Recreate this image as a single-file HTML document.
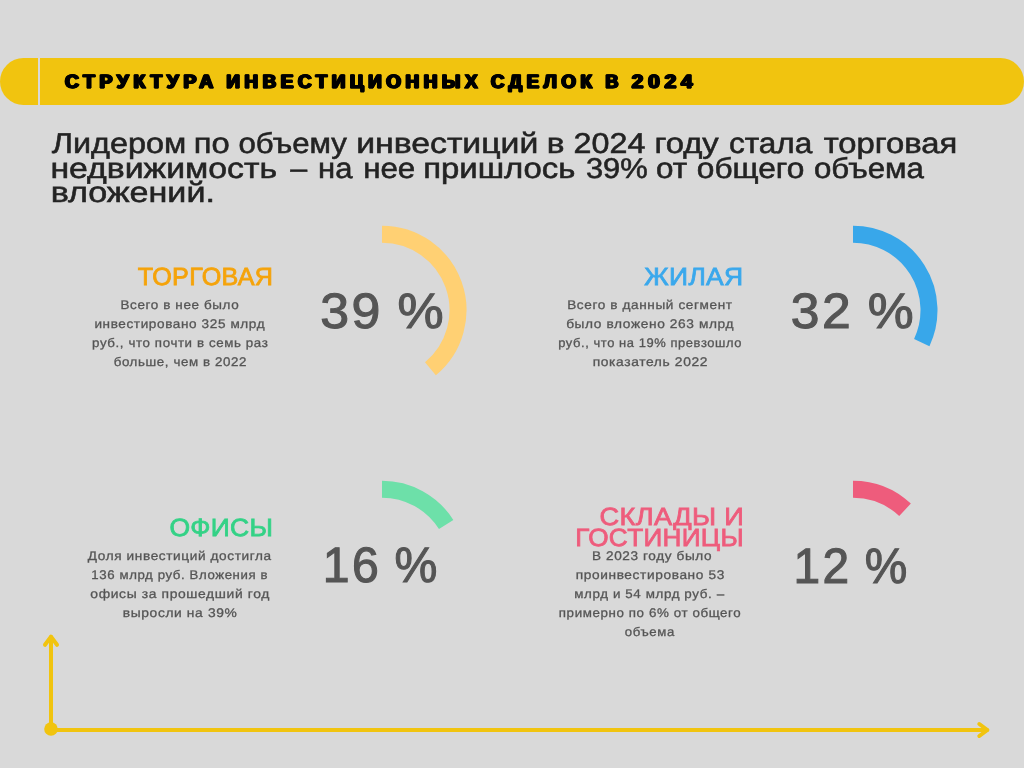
<!DOCTYPE html><html lang="ru"><head><meta charset="utf-8"><title>Структура инвестиционных сделок в 2024</title><style>
*{margin:0;padding:0;box-sizing:border-box}
html,body{width:1024px;height:768px;overflow:hidden;background:#d9d9d9}
body{position:relative;font-family:"Liberation Sans",sans-serif}
.bar{position:absolute;left:0;top:58px;width:1024px;height:47px;border-radius:23.5px;background:#f1c40f}
.bar i{position:absolute;left:38px;top:0;width:2px;height:47px;background:#d9d9d9}
.t{position:absolute;white-space:nowrap;line-height:1;transform-origin:0 0;display:block;text-rendering:geometricPrecision}
.L{position:absolute;left:0;top:0;width:1024px;height:768px;will-change:transform}
.ttl{font-weight:700;color:#000;letter-spacing:4.6px;-webkit-text-stroke:1.3px #000;text-shadow:1.2px 0 0 #000,-1.2px 0 0 #000,.6px 0 0 #000,-.6px 0 0 #000}
.par{color:#232323;-webkit-text-stroke:0.55px #232323}
.lab{font-weight:400;-webkit-text-stroke:0.8px;letter-spacing:.3px}
.c1{color:#f5a30a} .c2{color:#3aa8ec} .c3{color:#33d286} .c4{color:#ee5c7c}
.md{display:inline-block;width:.58em;clip-path:inset(-1em 0 -1em 0)}
.dsc{color:#555;-webkit-text-stroke:0.3px #555;letter-spacing:.045em}
.dg{letter-spacing:.05em}
.num{color:#555;-webkit-text-stroke:1.1px #555}
svg{position:absolute;left:0;top:0}
</style></head><body>
<div class="bar"><i></i></div>
<svg width="1024" height="768" viewBox="0 0 1024 768"><path d="M382 234.2A76 76 0 0 1 430.44 368.76" fill="none" stroke="#ffd073" stroke-width="17"/><path d="M853 234.2A76 76 0 0 1 921.77 342.56" fill="none" stroke="#38a7ea" stroke-width="17"/><path d="M382 489.2A76 76 0 0 1 446.17 524.48" fill="none" stroke="#6de0a9" stroke-width="17"/><path d="M853 489.2A76 76 0 0 1 905.03 509.80" fill="none" stroke="#ee5c7c" stroke-width="17"/><g fill="none" stroke="#f1c40f" stroke-width="4" stroke-linecap="round" stroke-linejoin="round"><path d="M51 729V637"/><path d="M45 644.8L51 636.6L57 644.8"/><path d="M51 730H987"/><path d="M979.3 724L987.4 730L979.3 736"/></g><circle cx="51" cy="729" r="6.8" fill="#f1c40f"/></svg>
<div class="L">
<h1 class="h"><span class="t ttl" style="left:65px;top:72px;font-size:19.2px;transform:translate(0.02px,0.50px) scaleX(1.0070)">СТРУКТУРА</span> <span class="t ttl" style="left:226px;top:72px;font-size:19.2px;transform:translate(0.32px,0.50px) scaleX(0.9850)">ИНВЕСТИЦИОННЫХ</span> <span class="t ttl" style="left:490px;top:72px;font-size:19.2px;transform:translate(0.84px,0.50px) scaleX(0.9804)">СДЕЛОК</span> <span class="t ttl" style="left:605px;top:72px;font-size:19.2px;transform:translate(0.45px,0.50px) scaleX(0.9404)">В</span> <span class="t ttl" style="left:631px;top:72px;font-size:19.2px;transform:translate(0.80px,0.50px) scaleX(1.0751)">2024</span></h1>
<p class="p1"><span class="t par" style="left:51px;top:129px;font-size:28.6px;transform:translate(0.73px,0.64px) scaleX(1.1320)">Лидером</span> <span class="t par" style="left:193px;top:129px;font-size:28.6px;transform:translate(0.69px,0.64px) scaleX(1.1441)">по</span> <span class="t par" style="left:238px;top:129px;font-size:28.6px;transform:translate(0.49px,0.64px) scaleX(1.0907)">объему</span> <span class="t par" style="left:356px;top:129px;font-size:28.6px;transform:translate(0.13px,0.64px) scaleX(1.1813)">инвестиций</span> <span class="t par" style="left:546px;top:129px;font-size:28.6px;transform:translate(0.65px,0.64px) scaleX(1.1678)">в</span> <span class="t par" style="left:573px;top:129px;font-size:28.6px;transform:translate(0.57px,0.64px) scaleX(1.1286)">2024</span> <span class="t par" style="left:654px;top:129px;font-size:28.6px;transform:translate(0.50px,0.64px) scaleX(1.1458)">году</span> <span class="t par" style="left:728px;top:129px;font-size:28.6px;transform:translate(0.89px,0.64px) scaleX(1.1031)">стала</span> <span class="t par" style="left:823px;top:129px;font-size:28.6px;transform:translate(0.64px,0.64px) scaleX(1.1466)">торговая</span></p>
<p class="p2"><span class="t par" style="left:50px;top:154px;font-size:28.6px;transform:translate(0.39px,0.69px) scaleX(1.1814)">недвижимость</span> <span class="t par" style="left:290px;top:154px;font-size:28.6px;transform:translate(0.17px,0.69px) scaleX(0.5935)">—</span> <span class="t par" style="left:318px;top:154px;font-size:28.6px;transform:translate(0.01px,0.69px) scaleX(1.0843)">на</span> <span class="t par" style="left:363px;top:154px;font-size:28.6px;transform:translate(0.17px,0.69px) scaleX(1.0947)">нее</span> <span class="t par" style="left:423px;top:154px;font-size:28.6px;transform:translate(0.15px,0.69px) scaleX(1.1503)">пришлось</span> <span class="t par" style="left:585px;top:154px;font-size:28.6px;transform:translate(0.91px,0.69px) scaleX(1.0809)">39%</span> <span class="t par" style="left:656px;top:154px;font-size:28.6px;transform:translate(0.12px,0.69px) scaleX(1.0962)">от</span> <span class="t par" style="left:696px;top:154px;font-size:28.6px;transform:translate(0.84px,0.69px) scaleX(1.1063)">общего</span> <span class="t par" style="left:813px;top:154px;font-size:28.6px;transform:translate(0.97px,0.69px) scaleX(1.0922)">объема</span></p>
<p class="p3"><span class="t par" style="left:50px;top:178px;font-size:28.6px;transform:translate(0.63px,0.74px) scaleX(1.1919)">вложений.</span></p>
<div class="t lab c1" style="left:137px;top:264px;font-size:24.9px;transform:translate(0.71px,0.57px) scaleX(1.0102)">ТОРГОВАЯ</div>
<div class="t lab c2" style="left:644px;top:264px;font-size:24.9px;transform:translate(0.32px,0.57px) scaleX(1.0624)">ЖИЛАЯ</div>
<div class="t lab c3" style="left:169px;top:515px;font-size:24.9px;transform:translate(0.39px,0.62px) scaleX(1.0636)">ОФИСЫ</div>
<p class="l4"><span class="t lab c4" style="left:599px;top:504px;font-size:24.9px;transform:translate(0.57px,0.67px) scaleX(1.0927)">СКЛАДЫ И</span> <span class="t lab c4" style="left:575px;top:525px;font-size:24.9px;transform:translate(0.18px,0.64px) scaleX(1.0504)">ГОСТИНИЦЫ</span></p>
<p class="d1"><span class="t dsc" style="left:120px;top:298px;font-size:12.5px;transform:translate(0.52px,0.62px) scaleX(1.0779)">Всего в нее было</span> <span class="t dsc" style="left:94px;top:317px;font-size:12.5px;transform:translate(0.40px,0.67px) scaleX(1.0844)">инвестировано 325 млрд</span> <span class="t dsc" style="left:92px;top:336px;font-size:12.5px;transform:translate(0.08px,0.62px) scaleX(1.0654)">руб., что почти в семь раз</span> <span class="t dsc" style="left:113px;top:355px;font-size:12.5px;transform:translate(0.67px,0.52px) scaleX(1.0657)">больше, чем в 2022</span></p>
<p class="d2"><span class="t dsc" style="left:567px;top:298px;font-size:12.5px;transform:translate(0.19px,0.62px) scaleX(1.0878)">Всего в данный сегмент</span> <span class="t dsc" style="left:566px;top:317px;font-size:12.5px;transform:translate(0.14px,0.67px) scaleX(1.0965)">было вложено 263 млрд</span> <span class="t dsc" style="left:558px;top:336px;font-size:12.5px;transform:translate(0.20px,0.62px) scaleX(1.0333)">руб., что на 19% превзошло</span> <span class="t dsc" style="left:592px;top:355px;font-size:12.5px;transform:translate(0.66px,0.52px) scaleX(1.1064)">показатель 2022</span></p>
<p class="d3"><span class="t dsc" style="left:87px;top:549px;font-size:12.5px;transform:translate(0.80px,0.67px) scaleX(1.0888)">Доля инвестиций достигла</span> <span class="t dsc" style="left:91px;top:568px;font-size:12.5px;transform:translate(0.36px,0.62px) scaleX(1.0578)">136 млрд руб. Вложения в</span> <span class="t dsc" style="left:90px;top:587px;font-size:12.5px;transform:translate(0.35px,0.57px) scaleX(1.1092)">офисы за прошедший год</span> <span class="t dsc" style="left:122px;top:606px;font-size:12.5px;transform:translate(0.77px,0.52px) scaleX(1.1047)">выросли на 39%</span></p>
<p class="d4"><span class="t dsc" style="left:591px;top:549px;font-size:12.5px;transform:translate(0.92px,0.67px) scaleX(1.0872)">В 2023 году было</span> <span class="t dsc" style="left:575px;top:568px;font-size:12.5px;transform:translate(0.72px,0.62px) scaleX(1.0948)">проинвестировано 53</span> <span class="t dsc" style="left:574px;top:587px;font-size:12.5px;transform:translate(0.28px,0.57px) scaleX(1.0698)">млрд и 54 млрд руб. <span class=md>—</span></span> <span class="t dsc" style="left:558px;top:606px;font-size:12.5px;transform:translate(0.80px,0.52px) scaleX(1.0665)">примерно по 6% от общего</span> <span class="t dsc" style="left:624px;top:625px;font-size:12.5px;transform:translate(0.83px,0.52px) scaleX(1.0561)">объема</span></p>
<div class="t num" style="left:320px;top:286px;font-size:49.7px;transform:translate(0.17px,0.63px) scaleX(1.0437)"><span class=dg>39</span> %</div>
<div class="t num" style="left:790px;top:286px;font-size:49.7px;transform:translate(0.78px,0.58px) scaleX(1.0394)"><span class=dg>32</span> %</div>
<div class="t num" style="left:322px;top:540px;font-size:49.7px;transform:translate(0.78px,0.73px) scaleX(0.9701)"><span class=dg>16</span> %</div>
<div class="t num" style="left:793px;top:541px;font-size:49.7px;transform:translate(0.54px,0.68px) scaleX(0.9628)"><span class=dg>12</span> %</div>
</div>
</body></html>
